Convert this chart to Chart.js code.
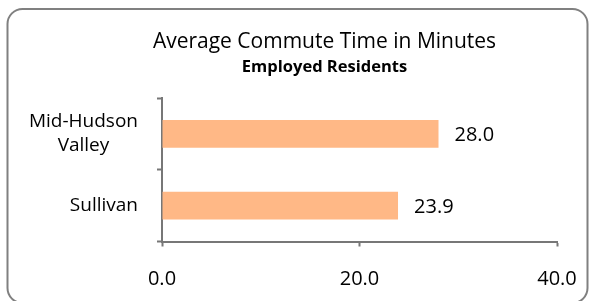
<!DOCTYPE html>
<html>
<head>
<meta charset="utf-8">
<script src="https://cdn.jsdelivr.net/npm/chart.js@4.4.1/dist/chart.umd.min.js"></script>
<style>
  html, body { margin: 0; padding: 0; background: #fff; }
</style>
</head>
<body>
<canvas id="commuteChart" width="590" height="301"></canvas>
<script>
// data
const regions = [['Mid-Hudson', 'Valley'], ['Sullivan']];
const commuteMinutes = [28.0, 23.9];
const axisMin = 0;
const axisMax = 40;
const axisStep = 20;

const FONT = "'Open Sans', 'Noto Sans', sans-serif";
const AXIS_GRAY = '#777777';

// rounded frame round the whole chart
const framePlugin = {
    id: 'frame',
    beforeDraw(chart) {
        const ctx = chart.ctx;
        ctx.save();
        ctx.strokeStyle = '#808080';
        ctx.lineWidth = 2;
        ctx.beginPath();
        ctx.roundRect(7.5, 9, 580, 294, 15);
        ctx.stroke();
        ctx.restore();
    }
};

// category labels: lines centred on each other, block right-aligned
const categoryLabels = {
    id: 'categoryLabels',
    afterDraw(chart) {
        const ctx = chart.ctx;
        const y = chart.scales.y;
        const right = 138;
        ctx.save();
        ctx.font = '19px ' + FONT;
        ctx.fillStyle = '#000';
        ctx.textAlign = 'center';
        ctx.textBaseline = 'middle';
        chart.data.labels.forEach((lab, i) => {
            const lines = Array.isArray(lab) ? lab : [lab];
            const w = Math.max(...lines.map(l => ctx.measureText(l).width));
            const cx = right - w / 2;
            const cy = y.getPixelForValue(i);
            lines.forEach((l, j) => {
                ctx.fillText(l, cx, cy + (j - (lines.length - 1) / 2) * 24);
            });
        });
        ctx.restore();
    }
};

// value labels at the bar ends
const valueLabels = {
    id: 'valueLabels',
    afterDatasetsDraw(chart) {
        const ctx = chart.ctx;
        const meta = chart.getDatasetMeta(0);
        ctx.save();
        ctx.font = '20px ' + FONT;
        ctx.fillStyle = '#000';
        ctx.textAlign = 'left';
        ctx.textBaseline = 'middle';
        meta.data.forEach((bar, i) => {
            ctx.fillText(commuteMinutes[i].toFixed(1), bar.x + 16, bar.y + 1.5);
        });
        ctx.restore();
    }
};

new Chart(document.getElementById('commuteChart'), {
    type: 'bar',
    data: {
        labels: regions,
        datasets: [{
            data: commuteMinutes,
            backgroundColor: '#FFB886',
            borderWidth: 0,
            barPercentage: 0.39,
            categoryPercentage: 1.0
        }]
    },
    options: {
        indexAxis: 'y',
        responsive: false,
        animation: false,
        layout: { padding: { left: 92, right: 33, top: 0, bottom: 0 } },
        plugins: {
            legend: { display: false },
            tooltip: { enabled: false },
            title: {
                display: true,
                text: 'Average Commute Time in Minutes',
                color: '#000',
                font: { family: FONT, size: 21, weight: 'normal' },
                padding: { top: 29, bottom: 0 }
            },
            subtitle: {
                display: true,
                text: 'Employed Residents',
                color: '#000',
                font: { family: FONT, size: 16.5, weight: 'bold' },
                padding: { top: 3, bottom: 21 }
            }
        },
        scales: {
            x: {
                min: axisMin,
                max: axisMax,
                ticks: {
                    stepSize: axisStep,
                    color: '#000',
                    font: { family: FONT, size: 20 },
                    padding: 21,
                    callback: v => v.toFixed(1)
                },
                grid: {
                    drawOnChartArea: false,
                    tickLength: 5,
                    tickWidth: 2,
                    tickColor: AXIS_GRAY
                },
                border: { color: AXIS_GRAY, width: 2 },
                afterFit(scale) {
                    scale.height = 59.5;
                    scale.paddingLeft = 0;
                    scale.paddingRight = 0;
                }
            },
            y: {
                ticks: { display: false },
                grid: {
                    offset: true,
                    drawOnChartArea: false,
                    tickLength: 5,
                    tickWidth: 2,
                    tickColor: AXIS_GRAY
                },
                border: { color: AXIS_GRAY, width: 2 },
                afterFit(scale) { scale.width = 70; }
            }
        }
    },
    plugins: [framePlugin, categoryLabels, valueLabels]
});
</script>
</body>
</html>
